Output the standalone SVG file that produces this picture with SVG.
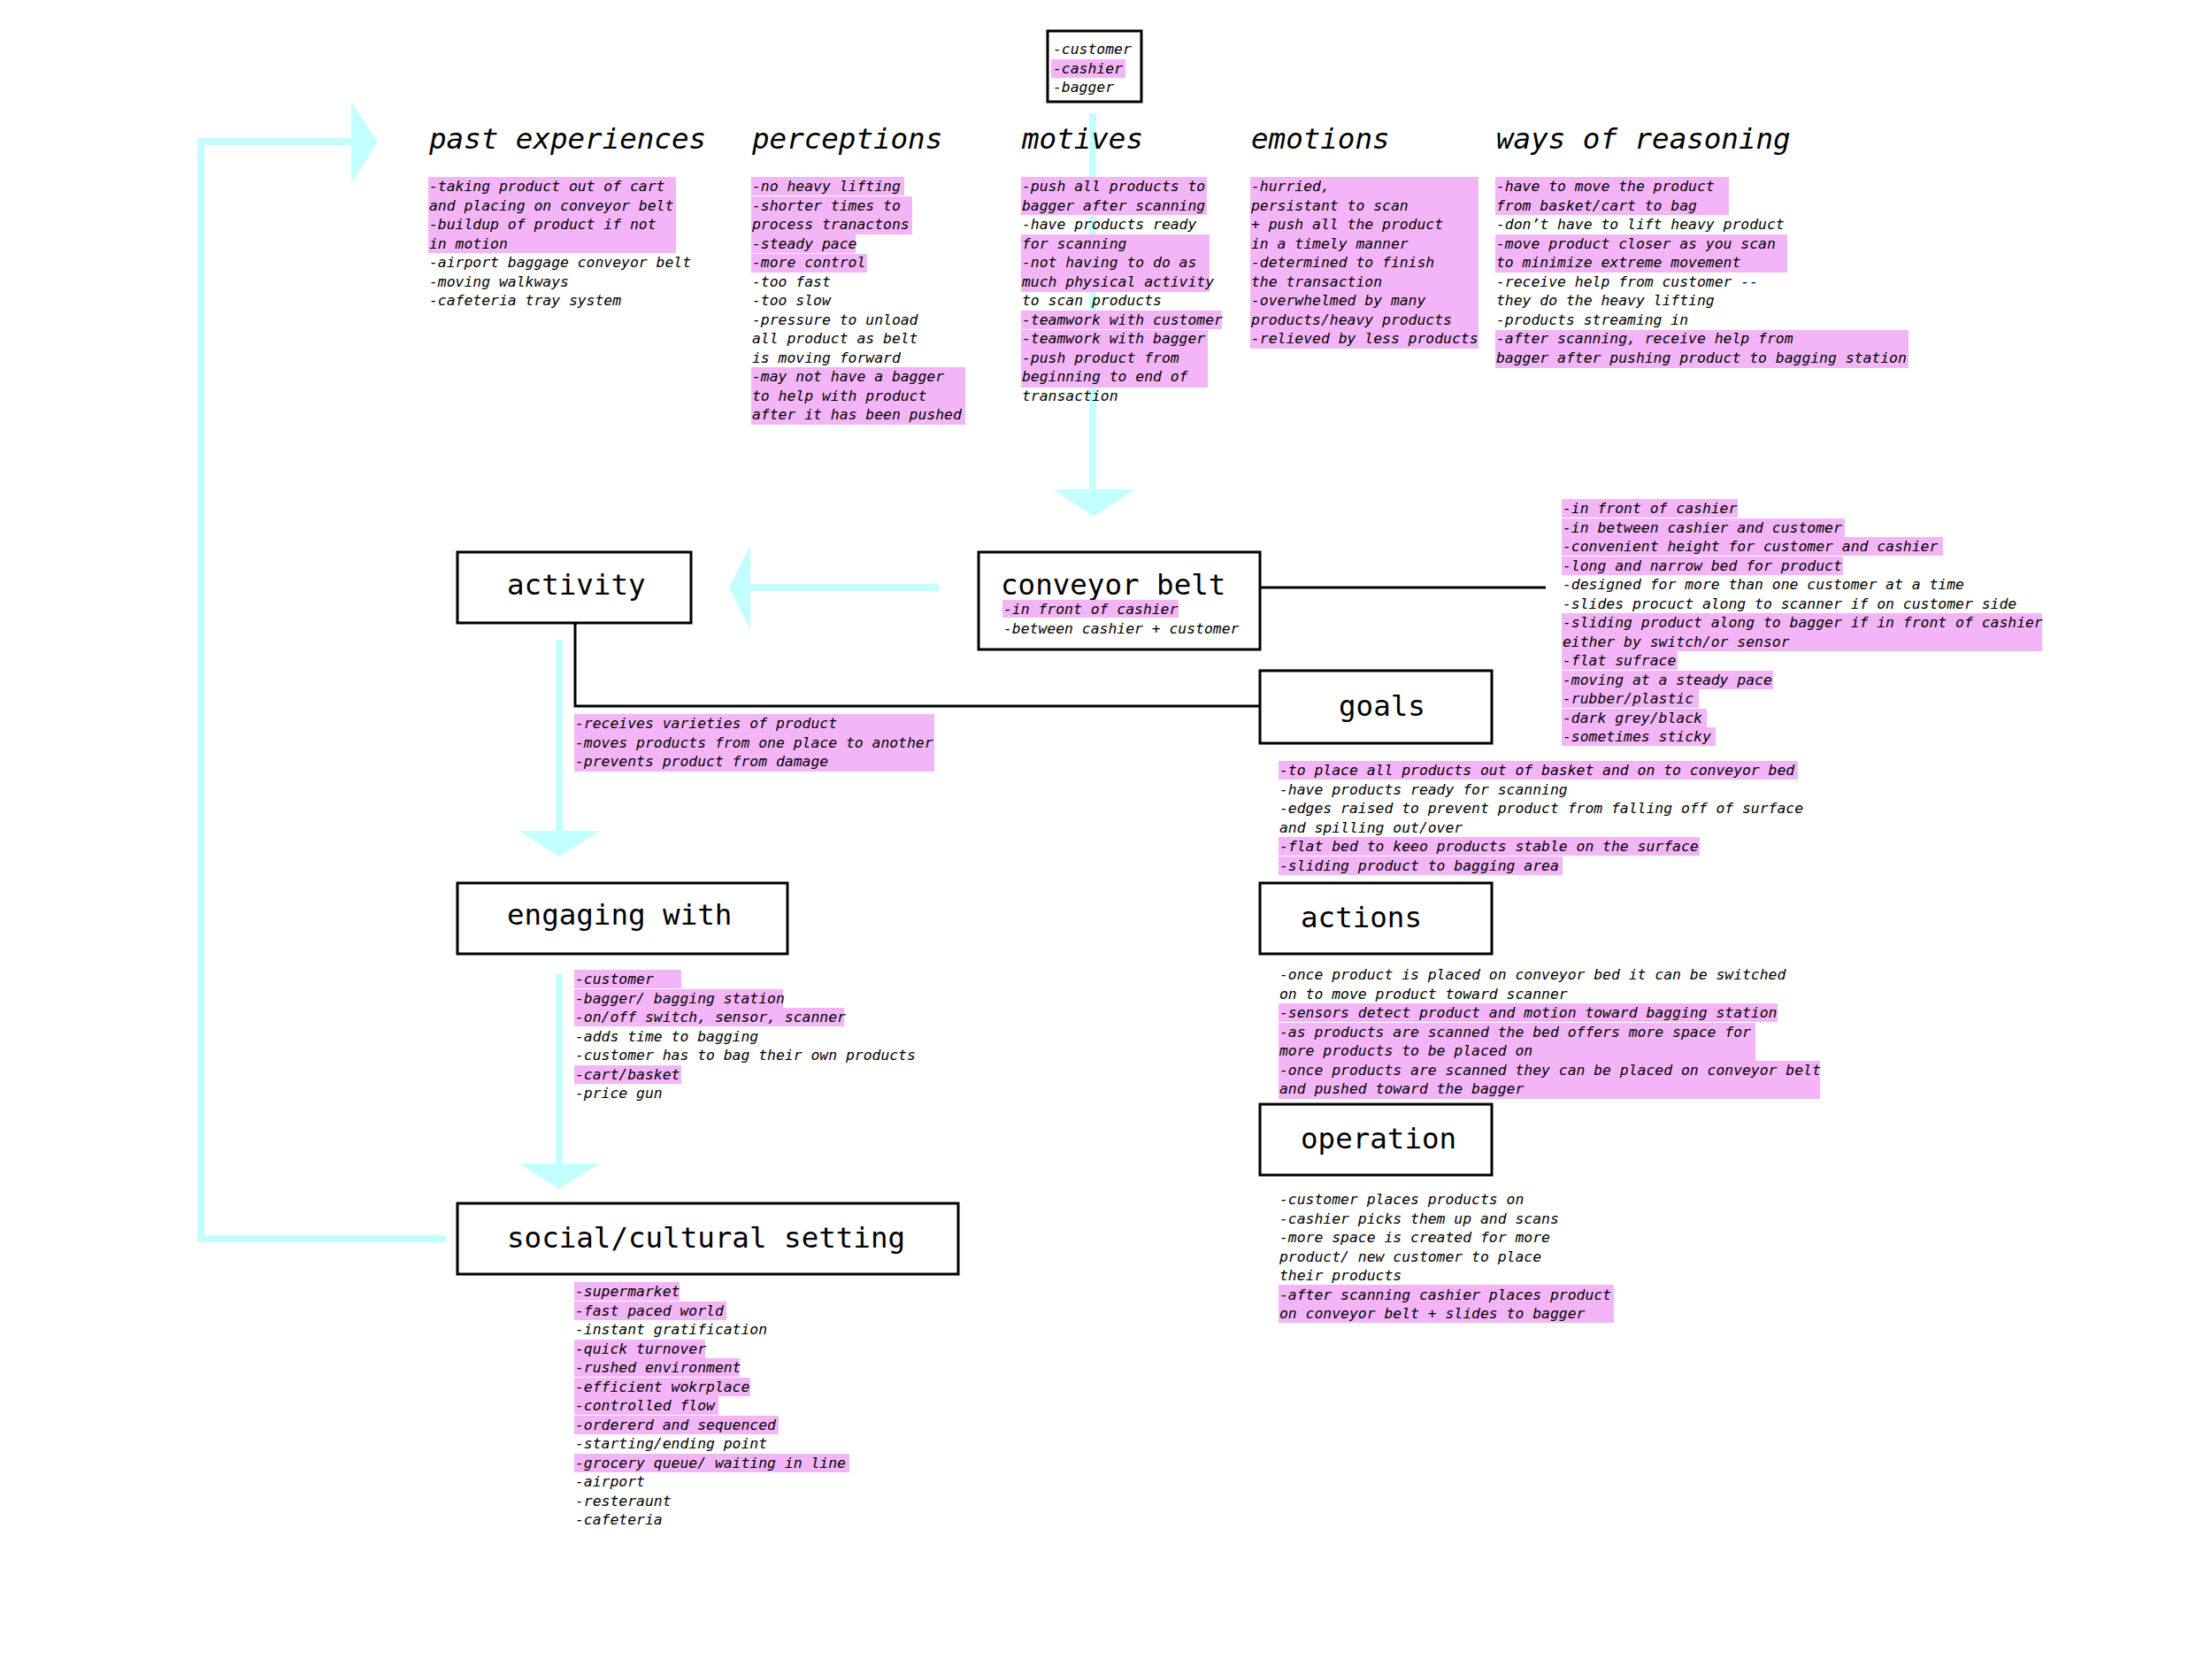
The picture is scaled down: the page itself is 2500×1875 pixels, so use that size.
<svg xmlns="http://www.w3.org/2000/svg" width="2500" height="1875" viewBox="0 0 2500 1875">
<style>
.h{fill:#f3b5f7}
.t{font-family:"DejaVu Sans Mono","Liberation Mono",monospace;font-style:italic;font-size:16.4px;fill:#000}
.hd{font-family:"DejaVu Sans Mono","Liberation Mono",monospace;font-style:italic;font-size:32.5px;fill:#000}
.lb{font-family:"DejaVu Sans Mono","Liberation Mono",monospace;font-size:32.5px;fill:#000}
.box{fill:#fff;stroke:#000;stroke-width:3}
.cy{stroke:#c4ffff;stroke-width:8;fill:none}
.ch{fill:#c4ffff}
.bl{stroke:#000;stroke-width:3;fill:none}
</style>
<rect width="2500" height="1875" fill="#fff"/>

<g id="connectors">
<line class="cy" x1="1235" y1="128" x2="1235" y2="560"/>
<polygon class="ch" points="1190,553 1283,553 1236,584"/>
<line class="cy" x1="1061" y1="664" x2="840" y2="664"/>
<polygon class="ch" points="848,616 848,712 824,664"/>
<line class="cy" x1="632" y1="723" x2="632" y2="945"/>
<polygon class="ch" points="586,939 678,939 632,968"/>
<line class="cy" x1="632" y1="1101" x2="632" y2="1320"/>
<polygon class="ch" points="586,1315 678,1315 632,1344"/>
<polyline class="cy" points="504,1400 227,1400 227,160 405,160"/>
<polygon class="ch" points="397,115 427,160 397,207"/>
<polyline class="bl" points="1424,664 1747,664"/>
<polyline class="bl" points="650,704 650,798 1424,798"/>
</g>

<g id="roles">
<rect class="box" x="1184" y="35" width="106" height="80"/>
<rect class="h" x="1188" y="67" width="84" height="21"/>
<text class="t" x="1190" y="61">-customer<tspan x="1190" dy="21.5">-cashier</tspan><tspan x="1190" dy="21.5">-bagger</tspan></text>
</g>

<g id="past-experiences">
<text class="hd" x="485" y="168">past experiences</text>
<rect class="h" x="484" y="200" width="280" height="86"/>
<text class="t" x="485" y="216">-taking product out of cart<tspan x="485" dy="21.5">and placing on conveyor belt</tspan><tspan x="485" dy="21.5">-buildup of product if not</tspan><tspan x="485" dy="21.5">in motion</tspan><tspan x="485" dy="21.5">-airport baggage conveyor belt</tspan><tspan x="485" dy="21.5">-moving walkways</tspan><tspan x="485" dy="21.5">-cafeteria tray system</tspan></text>
</g>

<g id="perceptions">
<text class="hd" x="850" y="168">perceptions</text>
<rect class="h" x="849" y="200" width="173" height="21"/>
<rect class="h" x="849" y="222" width="182" height="43"/>
<rect class="h" x="849" y="265" width="118" height="21"/>
<rect class="h" x="849" y="287" width="131" height="21"/>
<rect class="h" x="849" y="415" width="242" height="65"/>
<text class="t" x="850" y="216">-no heavy lifting<tspan x="850" dy="21.5">-shorter times to</tspan><tspan x="850" dy="21.5">process tranactons</tspan><tspan x="850" dy="21.5">-steady pace</tspan><tspan x="850" dy="21.5">-more control</tspan><tspan x="850" dy="21.5">-too fast</tspan><tspan x="850" dy="21.5">-too slow</tspan><tspan x="850" dy="21.5">-pressure to unload</tspan><tspan x="850" dy="21.5">all product as belt</tspan><tspan x="850" dy="21.5">is moving forward</tspan><tspan x="850" dy="21.5">-may not have a bagger</tspan><tspan x="850" dy="21.5">to help with product</tspan><tspan x="850" dy="21.5">after it has been pushed</tspan></text>
</g>

<g id="motives">
<text class="hd" x="1155" y="168">motives</text>
<rect class="h" x="1154" y="200" width="210" height="43"/>
<rect class="h" x="1154" y="265" width="213" height="65"/>
<rect class="h" x="1154" y="351" width="227" height="21"/>
<rect class="h" x="1154" y="373" width="211" height="65"/>
<text class="t" x="1155" y="216">-push all products to<tspan x="1155" dy="21.5">bagger after scanning</tspan><tspan x="1155" dy="21.5">-have products ready</tspan><tspan x="1155" dy="21.5">for scanning</tspan><tspan x="1155" dy="21.5">-not having to do as</tspan><tspan x="1155" dy="21.5">much physical activity</tspan><tspan x="1155" dy="21.5">to scan products</tspan><tspan x="1155" dy="21.5">-teamwork with customer</tspan><tspan x="1155" dy="21.5">-teamwork with bagger</tspan><tspan x="1155" dy="21.5">-push product from</tspan><tspan x="1155" dy="21.5">beginning to end of</tspan><tspan x="1155" dy="21.5">transaction</tspan></text>
</g>

<g id="emotions">
<text class="hd" x="1414" y="168">emotions</text>
<rect class="h" x="1413" y="200" width="258" height="194"/>
<text class="t" x="1414" y="216">-hurried,<tspan x="1414" dy="21.5">persistant to scan</tspan><tspan x="1414" dy="21.5">+ push all the product</tspan><tspan x="1414" dy="21.5">in a timely manner</tspan><tspan x="1414" dy="21.5">-determined to finish</tspan><tspan x="1414" dy="21.5">the transaction</tspan><tspan x="1414" dy="21.5">-overwhelmed by many</tspan><tspan x="1414" dy="21.5">products/heavy products</tspan><tspan x="1414" dy="21.5">-relieved by less products</tspan></text>
</g>

<g id="ways-of-reasoning">
<text class="hd" x="1691" y="168">ways of reasoning</text>
<rect class="h" x="1690" y="200" width="264" height="43"/>
<rect class="h" x="1690" y="265" width="330" height="43"/>
<rect class="h" x="1690" y="373" width="467" height="43"/>
<text class="t" x="1691" y="216">-have to move the product<tspan x="1691" dy="21.5">from basket/cart to bag</tspan><tspan x="1691" dy="21.5">-don’t have to lift heavy product</tspan><tspan x="1691" dy="21.5">-move product closer as you scan</tspan><tspan x="1691" dy="21.5">to minimize extreme movement</tspan><tspan x="1691" dy="21.5">-receive help from customer --</tspan><tspan x="1691" dy="21.5">they do the heavy lifting</tspan><tspan x="1691" dy="21.5">-products streaming in</tspan><tspan x="1691" dy="21.5">-after scanning, receive help from</tspan><tspan x="1691" dy="21.5">bagger after pushing product to bagging station</tspan></text>
</g>

<g id="activity">
<rect class="box" x="517" y="624" width="264" height="80"/>
<text class="lb" x="573" y="672">activity</text>
<rect class="h" x="649" y="807" width="407" height="65"/>
<text class="t" x="650" y="823">-receives varieties of product<tspan x="650" dy="21.5">-moves products from one place to another</tspan><tspan x="650" dy="21.5">-prevents product from damage</tspan></text>
</g>

<g id="conveyor-belt">
<rect class="box" x="1106" y="624" width="318" height="110"/>
<text class="lb" x="1131" y="672">conveyor belt</text>
<rect class="h" x="1133" y="678" width="199" height="20"/>
<text class="t" x="1134" y="694">-in front of cashier<tspan x="1134" dy="21.5">-between cashier + customer</tspan></text>
</g>

<g id="belt-attributes">
<rect class="h" x="1765" y="564" width="199" height="21"/>
<rect class="h" x="1765" y="586" width="320" height="21"/>
<rect class="h" x="1765" y="607" width="431" height="21"/>
<rect class="h" x="1765" y="629" width="318" height="21"/>
<rect class="h" x="1765" y="693" width="543" height="43"/>
<rect class="h" x="1765" y="736" width="131" height="21"/>
<rect class="h" x="1765" y="758" width="239" height="21"/>
<rect class="h" x="1765" y="779" width="155" height="21"/>
<rect class="h" x="1765" y="801" width="164" height="21"/>
<rect class="h" x="1765" y="822" width="174" height="21"/>
<text class="t" x="1766" y="580">-in front of cashier<tspan x="1766" dy="21.5">-in between cashier and customer</tspan><tspan x="1766" dy="21.5">-convenient height for customer and cashier</tspan><tspan x="1766" dy="21.5">-long and narrow bed for product</tspan><tspan x="1766" dy="21.5">-designed for more than one customer at a time</tspan><tspan x="1766" dy="21.5">-slides procuct along to scanner if on customer side</tspan><tspan x="1766" dy="21.5">-sliding product along to bagger if in front of cashier</tspan><tspan x="1766" dy="21.5">either by switch/or sensor</tspan><tspan x="1766" dy="21.5">-flat sufrace</tspan><tspan x="1766" dy="21.5">-moving at a steady pace</tspan><tspan x="1766" dy="21.5">-rubber/plastic</tspan><tspan x="1766" dy="21.5">-dark grey/black</tspan><tspan x="1766" dy="21.5">-sometimes sticky</tspan></text>
</g>

<g id="goals">
<rect class="box" x="1424" y="758" width="262" height="82"/>
<text class="lb" x="1513" y="809">goals</text>
<rect class="h" x="1445" y="860" width="587" height="21"/>
<rect class="h" x="1445" y="946" width="476" height="21"/>
<rect class="h" x="1445" y="968" width="321" height="21"/>
<text class="t" x="1446" y="876">-to place all products out of basket and on to conveyor bed<tspan x="1446" dy="21.5">-have products ready for scanning</tspan><tspan x="1446" dy="21.5">-edges raised to prevent product from falling off of surface</tspan><tspan x="1446" dy="21.5">and spilling out/over</tspan><tspan x="1446" dy="21.5">-flat bed to keeo products stable on the surface</tspan><tspan x="1446" dy="21.5">-sliding product to bagging area</tspan></text>
</g>

<g id="engaging-with">
<rect class="box" x="517" y="998" width="373" height="80"/>
<text class="lb" x="573" y="1045">engaging with</text>
<rect class="h" x="649" y="1096" width="121" height="21"/>
<rect class="h" x="649" y="1118" width="236" height="21"/>
<rect class="h" x="649" y="1139" width="305" height="21"/>
<rect class="h" x="649" y="1204" width="121" height="21"/>
<text class="t" x="650" y="1112">-customer<tspan x="650" dy="21.5">-bagger/ bagging station</tspan><tspan x="650" dy="21.5">-on/off switch, sensor, scanner</tspan><tspan x="650" dy="21.5">-adds time to bagging</tspan><tspan x="650" dy="21.5">-customer has to bag their own products</tspan><tspan x="650" dy="21.5">-cart/basket</tspan><tspan x="650" dy="21.5">-price gun</tspan></text>
</g>

<g id="actions">
<rect class="box" x="1424" y="998" width="262" height="80"/>
<text class="lb" x="1470" y="1048">actions</text>
<rect class="h" x="1445" y="1134" width="564" height="21"/>
<rect class="h" x="1445" y="1156" width="539" height="43"/>
<rect class="h" x="1445" y="1199" width="612" height="43"/>
<text class="t" x="1446" y="1107">-once product is placed on conveyor bed it can be switched<tspan x="1446" dy="21.5">on to move product toward scanner</tspan><tspan x="1446" dy="21.5">-sensors detect product and motion toward bagging station</tspan><tspan x="1446" dy="21.5">-as products are scanned the bed offers more space for</tspan><tspan x="1446" dy="21.5">more products to be placed on</tspan><tspan x="1446" dy="21.5">-once products are scanned they can be placed on conveyor belt</tspan><tspan x="1446" dy="21.5">and pushed toward the bagger</tspan></text>
</g>

<g id="operation">
<rect class="box" x="1424" y="1248" width="262" height="80"/>
<text class="lb" x="1470" y="1298">operation</text>
<rect class="h" x="1445" y="1452" width="379" height="43"/>
<text class="t" x="1446" y="1361">-customer places products on<tspan x="1446" dy="21.5">-cashier picks them up and scans</tspan><tspan x="1446" dy="21.5">-more space is created for more</tspan><tspan x="1446" dy="21.5">product/ new customer to place</tspan><tspan x="1446" dy="21.5">their products</tspan><tspan x="1446" dy="21.5">-after scanning cashier places product</tspan><tspan x="1446" dy="21.5">on conveyor belt + slides to bagger</tspan></text>
</g>

<g id="social-cultural-setting">
<rect class="box" x="517" y="1360" width="566" height="80"/>
<text class="lb" x="573" y="1410">social/cultural setting</text>
<rect class="h" x="649" y="1449" width="119" height="21"/>
<rect class="h" x="649" y="1471" width="172" height="21"/>
<rect class="h" x="649" y="1514" width="148" height="21"/>
<rect class="h" x="649" y="1535" width="187" height="21"/>
<rect class="h" x="649" y="1557" width="199" height="21"/>
<rect class="h" x="649" y="1578" width="163" height="21"/>
<rect class="h" x="649" y="1600" width="231" height="21"/>
<rect class="h" x="649" y="1643" width="311" height="21"/>
<text class="t" x="650" y="1465">-supermarket<tspan x="650" dy="21.5">-fast paced world</tspan><tspan x="650" dy="21.5">-instant gratification</tspan><tspan x="650" dy="21.5">-quick turnover</tspan><tspan x="650" dy="21.5">-rushed environment</tspan><tspan x="650" dy="21.5">-efficient wokrplace</tspan><tspan x="650" dy="21.5">-controlled flow</tspan><tspan x="650" dy="21.5">-ordererd and sequenced</tspan><tspan x="650" dy="21.5">-starting/ending point</tspan><tspan x="650" dy="21.5">-grocery queue/ waiting in line</tspan><tspan x="650" dy="21.5">-airport</tspan><tspan x="650" dy="21.5">-resteraunt</tspan><tspan x="650" dy="21.5">-cafeteria</tspan></text>
</g>
</svg>
